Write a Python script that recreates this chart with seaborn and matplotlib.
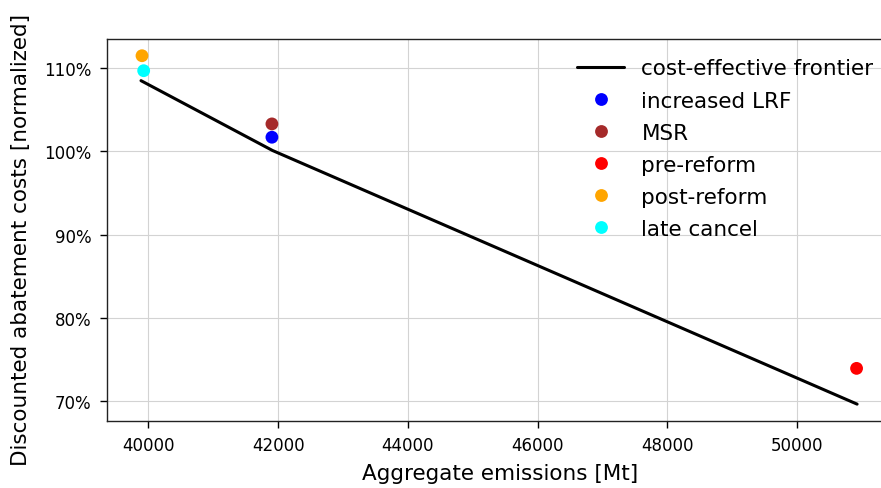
import numpy as np
import pandas as pd
import matplotlib
matplotlib.use("Agg")
import matplotlib.pyplot as plt
import seaborn as sns
from matplotlib.ticker import PercentFormatter

# cost-effective frontier
frontier_emissions = [39888, 41915, 50922]
frontier_costs = [1.085, 1.001, 0.696]

# scenarios
scenario_names = ["increased LRF", "MSR", "pre-reform", "post-reform", "late cancel"]
scenario_emissions = [41905, 41905, 50914, 39903, 39929]
scenario_costs = [1.017, 1.033, 0.739, 1.115, 1.097]
scenario_colors = ["blue", "brown", "red", "orange", "cyan"]

sns.set_style("ticks")
plt.rcParams['font.family'] = ['DejaVu Sans']
plt.rcParams.update({"text.color": "black", "axes.labelcolor": "black",
                     "xtick.color": "black", "ytick.color": "black",
                     "axes.edgecolor": "#222222"})

fig = plt.figure(figsize=(8.81, 4.89), dpi=100)
# axes run a little past the right edge of the image, as in the reference
ax = fig.add_axes([0.1211, 0.137, 0.8925, 0.781])

frontier = pd.DataFrame({"emissions": frontier_emissions, "costs": frontier_costs})
scen = pd.DataFrame({"emissions": scenario_emissions, "costs": scenario_costs,
                     "scenario": scenario_names})

sns.lineplot(data=frontier, x="emissions", y="costs", color="black", lw=2.2,
             label="cost-effective frontier", ax=ax)
sns.scatterplot(data=scen, x="emissions", y="costs", hue="scenario",
                palette=dict(zip(scenario_names, scenario_colors)),
                hue_order=scenario_names, s=85, linewidth=0, ax=ax, zorder=3)

ax.set_xlim(39359, 51475)
ax.set_ylim(0.6757, 1.135)
ax.yaxis.set_major_formatter(PercentFormatter(1.0, decimals=0))
ax.grid(True, color="#d3d3d3", lw=0.8)
ax.set_axisbelow(True)
ax.tick_params(labelsize=12, length=5, width=1, pad=6)
ax.set_xlabel("Aggregate emissions [Mt]", fontsize=15.5, labelpad=6)
ax.set_ylabel("Discounted abatement costs [normalized]", fontsize=15.5, va="center")
ax.yaxis.set_label_coords(-0.109, 0.476)
for sp in ax.spines.values():
    sp.set_visible(True)
    sp.set_linewidth(1)

ax.legend(frameon=False, fontsize=15.5, loc="upper right",
          bbox_to_anchor=(1.0, 1.0), handlelength=2.2, labelspacing=0.56)

fig.savefig("out.png", dpi=100)
